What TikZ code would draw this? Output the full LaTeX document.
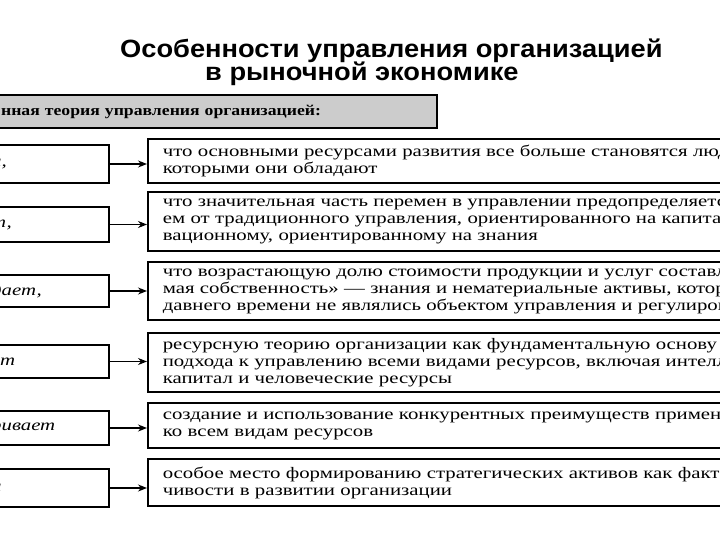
\documentclass[tikz,border=0pt]{standalone}
\usepackage{fontspec}
\setmainfont{Liberation Serif}
\newfontfamily\bodyfont[FakeStretch=1.3]{Liberation Serif}
\newfontfamily\headfont[FakeStretch=1.18]{Liberation Serif}
\newfontfamily\titlefont[FakeStretch=1.09]{Liberation Sans}
\usetikzlibrary{arrows.meta}

\begin{document}
\begin{tikzpicture}[x=1pt, y=-1pt,
  rbox/.style={draw, line width=1.6pt, anchor=west,
    text width=900pt, inner xsep=15pt, align=left,
    font=\bodyfont\fontsize{16}{17}\selectfont},
  lbox/.style={draw, line width=1.6pt, anchor=east, minimum width=140pt,
    text width=96pt, inner xsep=22pt, align=left,
    font=\bodyfont\itshape\fontsize{16}{17}\selectfont},
  link/.style={line width=1.4pt, -{Stealth[length=9pt, width=7pt]}}]
  \useasboundingbox (0,0) rectangle (720,540);
  \clip (0,0) rectangle (720,540);
  % Title
  \node[anchor=base west, inner sep=0pt, font=\titlefont\bfseries\fontsize{25}{28}\selectfont]
    (title1) at (120,58) {Особенности управления организацией};
  \node[anchor=base west, inner sep=0pt, font=\titlefont\bfseries\fontsize{25}{28}\selectfont]
    (title2) at (205,81) {в рыночной экономике};
  % Header bar
  \node[draw, line width=2.2pt, fill=gray!40, anchor=west, minimum width=442pt,
    minimum height=33pt, text width=430pt, inner xsep=4pt, align=left,
    font=\headfont\bfseries\fontsize{15}{17}\selectfont]
    (head) at (-6,111.5) {нная теория управления организацией:};
  % Left boxes
  \node[lbox, minimum height=38pt] (l1) at (110,164) {и,};
  \node[lbox, minimum height=35pt] (l2) at (110,224.5) {т,};
  \node[lbox, minimum height=32pt] (l3) at (110,291) {дает,};
  \node[lbox, minimum height=33pt] (l4) at (110,361.5) {ет};
  \node[lbox, minimum height=34pt] (l5) at (110,428) {ривает};
  \node[lbox, minimum height=38pt] (l6) at (110,488) {и};
  % Right boxes
  \node[rbox, minimum height=44pt] (r1) at (147,161)
    {что основными ресурсами развития все больше становятся люди и знания,\\
     которыми они обладают};
  \node[rbox, minimum height=59pt] (r2) at (147,221.5)
    {что значительная часть перемен в управлении предопределяется движени-\\
     ем от традиционного управления, ориентированного на капитал, к инно-\\
     вационному, ориентированному на знания};
  \node[rbox, minimum height=58pt] (r3) at (147,291)
    {что возрастающую долю стоимости продукции и услуг составляет «неосязае-\\
     мая собственность» — знания и нематериальные активы, которые до не-\\
     давнего времени не являлись объектом управления и регулирования};
  \node[rbox, minimum height=59pt] (r4) at (147,362.5)
    {ресурсную теорию организации как фундаментальную основу нового\\
     подхода к управлению всеми видами ресурсов, включая интеллектуальный\\
     капитал и человеческие ресурсы};
  \node[rbox, minimum height=45pt] (r5) at (147,425.5)
    {создание и использование конкурентных преимуществ применительно\\
     ко всем видам ресурсов};
  \node[rbox, minimum height=47pt] (r6) at (147,482.5)
    {особое место формированию стратегических активов как фактора устой-\\
     чивости в развитии организации};
  % Arrows
  \draw[link] (l1.east) -- (l1.east -| r1.west);
  \draw[link] (l2.east) -- (l2.east -| r2.west);
  \draw[link] (l3.east) -- (l3.east -| r3.west);
  \draw[link] (l4.east) -- (l4.east -| r4.west);
  \draw[link] (l5.east) -- (l5.east -| r5.west);
  \draw[link] (l6.east) -- (l6.east -| r6.west);
\end{tikzpicture}
\end{document}
